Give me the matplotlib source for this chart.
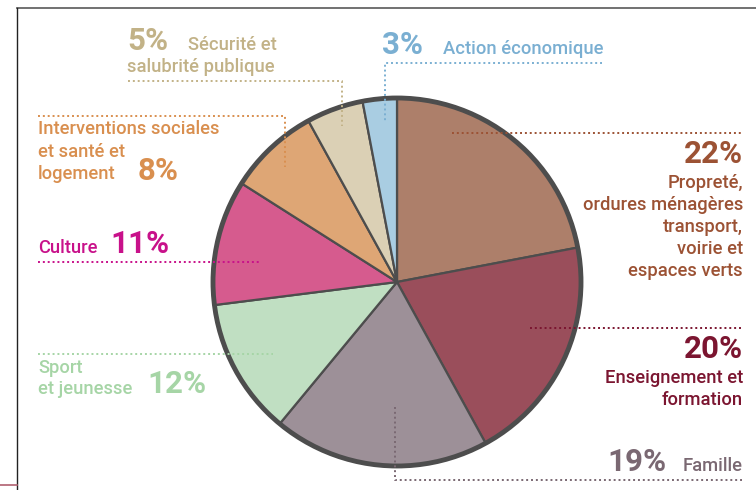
import matplotlib
matplotlib.use("Agg")
import matplotlib.pyplot as plt
from matplotlib.patches import Circle

plt.rcParams['font.family'] = ['Roboto', 'DejaVu Sans']

categories = ["Propreté, ordures ménagères transport, voirie et espaces verts",
              "Enseignement et formation", "Famille", "Sport et jeunesse",
              "Culture", "Interventions sociales et santé et logement",
              "Sécurité et salubrité publique", "Action économique"]
values = [22, 20, 19, 12, 11, 8, 5, 3]
slice_colors = ["#ad7f6a", "#9a4e5b", "#9d9098", "#c0dfc2",
                "#d65b8e", "#dea675", "#dbd0b5", "#a9cde2"]
text_colors = ["#9c5234", "#7b1530", "#7a6872", "#a6d5a6",
               "#c8118a", "#d98f4f", "#c2b287", "#7aafd2"]

W, H = 756, 490
fig = plt.figure(figsize=(W / 100, H / 100), dpi=100)
ax = fig.add_axes([0, 0, 1, 1])

def Y(y):
    return H - y

cx, cy, R = 397, 282, 184
edge = "#4d4d4d"
ax.pie(values, colors=slice_colors, startangle=90, counterclock=False,
       center=(cx, Y(cy)), radius=R,
       wedgeprops=dict(edgecolor=edge, linewidth=1.6))
ax.add_patch(Circle((cx, Y(cy)), R, fill=False, edgecolor=edge, linewidth=3.5, zorder=5))

ax.set_xlim(0, W)
ax.set_ylim(0, H)
ax.set_aspect('equal')
ax.axis('off')

# frame
ax.plot([17, W], [Y(8.5), Y(8.5)], color="#666666", lw=1.3, clip_on=False)
ax.plot([17, 17], [Y(8.5), 0], color="#222222", lw=1.0, clip_on=False)
ax.plot([0, 17], [Y(485), Y(485)], color="#b06070", lw=1.2, clip_on=False)

DOT = (0, (1, 1.5))
PS, LS = 22.5, 13.2

def dline(xs, ys, c):
    ax.plot(xs, [Y(v) for v in ys], color=c, lw=1.4, linestyle=DOT, zorder=6)

def txt(x, y, s, c, size=LS, bold=False, ha='left'):
    ax.text(x, Y(y), s, color=c, fontsize=size, fontweight='bold' if bold else 500,
            ha=ha, va='baseline', zorder=7)

# Sécurité
c = text_colors[6]
txt(127, 50, "5%", c, PS, True)
txt(188, 50, "Sécurité et", c)
txt(127, 72, "salubrité publique", c)
dline([128, 342, 342], [81, 81, 126], c)

# Action économique
c = text_colors[7]
txt(382, 54, "3%", c, PS, True)
txt(443, 54, "Action économique", c)
dline([602, 385, 385], [63, 63, 123], c)

# Propreté
c = text_colors[0]
dline([452, 743], [133, 133], c)
txt(743, 163, "22%", c, PS, True, 'right')
for i, s in enumerate(["Propreté,", "ordures ménagères", "transport,", "voirie et", "espaces verts"]):
    txt(743, 188 + 22 * i, s, c, ha='right')

# Enseignement
c = text_colors[1]
dline([530, 743], [328, 328], c)
txt(743, 358, "20%", c, PS, True, 'right')
txt(743, 383, "Enseignement et", c, ha='right')
txt(743, 405, "formation", c, ha='right')

# Famille
c = text_colors[2]
txt(667, 471, "19%", c, PS, True, 'right')
txt(743, 471, "Famille", c, ha='right')
dline([395, 395, 743], [407, 480, 480], c)

# Culture
c = text_colors[4]
txt(38, 253, "Culture", c)
txt(110, 253, "11%", c, PS, True)
dline([38, 260], [262, 262], c)

# Sport
c = text_colors[3]
dline([38, 273], [354, 354], c)
txt(38, 373, "Sport", c)
txt(38, 394, "et jeunesse", c)
txt(147, 393, "12%", c, PS, True)

# Interventions
c = text_colors[5]
dline([38, 285, 285], [116, 116, 167], c)
txt(38, 134, "Interventions sociales", c)
txt(38, 157, "et santé et", c)
txt(38, 179, "logement", c)
txt(138, 180, "8%", c, PS, True)

fig.savefig("out.png", dpi=100)
